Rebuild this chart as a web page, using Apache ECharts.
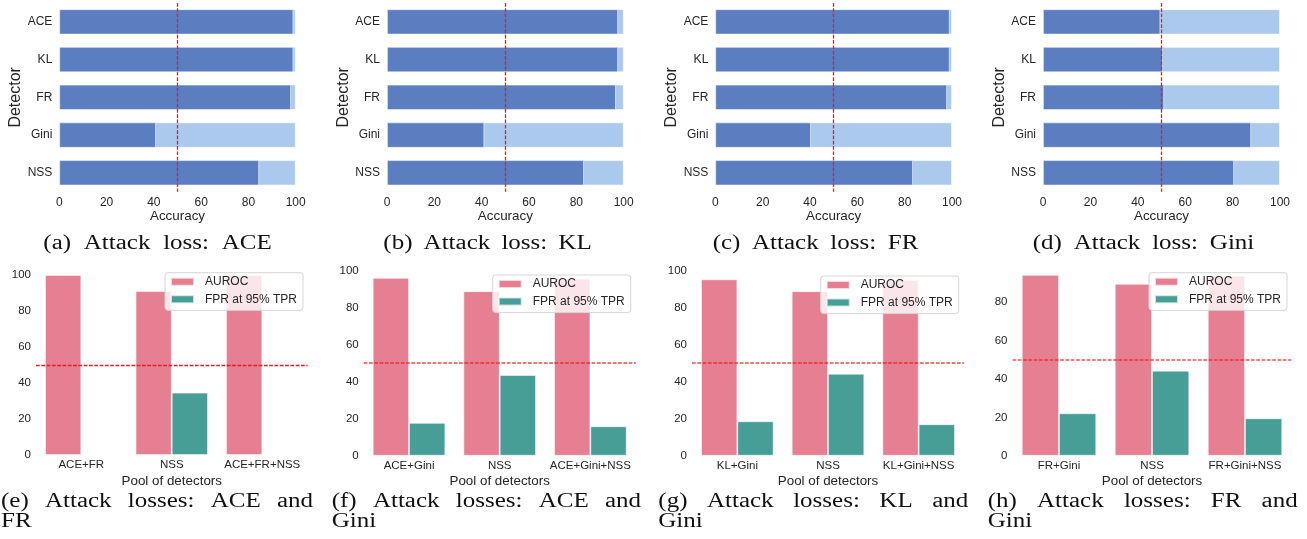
<!DOCTYPE html>
<html>
<head>
<meta charset="utf-8">
<script src="https://cdn.jsdelivr.net/npm/echarts@6/dist/echarts.min.js"></script>
<style>
  html, body { margin: 0; padding: 0; background: #fff; }
  #chart { width: 1307px; height: 539px; }
</style>
</head>
<body>
<div id="chart"></div>
<script>
// ---- data ----
const detectors = ['ACE', 'KL', 'FR', 'Gini', 'NSS'];
const accCeiling = [100, 100, 100, 100, 100];
const accLossACE = [99.0, 99.0, 98.0, 40.9, 84.5];
const accLossKL = [97.6, 97.6, 96.7, 41.1, 83.2];
const accLossFR = [99.0, 99.0, 97.9, 40.4, 83.5];
const accLossGini = [49.5, 50.6, 51.1, 87.8, 80.6];
const accTicks = [0, 20, 40, 60, 80, 100];

const poolsE = ['ACE+FR', 'NSS', 'ACE+FR+NSS'];
const aurocE = [100, 91.1, 100];
const fprE = [0, 34.6, 0];
const poolsF = ['ACE+Gini', 'NSS', 'ACE+Gini+NSS'];
const aurocF = [96.1, 88.9, 95.7];
const fprF = [17.7, 43.6, 15.9];
const poolsG = ['KL+Gini', 'NSS', 'KL+Gini+NSS'];
const aurocG = [95.3, 88.9, 95.0];
const fprG = [18.6, 44.3, 17.0];
const poolsH = ['FR+Gini', 'NSS', 'FR+Gini+NSS'];
const aurocH = [94.3, 89.6, 93.9];
const fprH = [22.1, 44.3, 19.5];

const legendNames = ['AUROC', 'FPR at 95% TPR'];
const captionsTop = ['(a) Attack loss: ACE', '(b) Attack loss: KL', '(c) Attack loss: FR', '(d) Attack loss: Gini'];
const captionsBottom1 = ['(e) Attack losses: ACE and', '(f) Attack losses: ACE and', '(g) Attack losses: KL and', '(h) Attack losses: FR and'];
const captionsBottom2 = ['FR', 'Gini', 'Gini', 'Gini'];

// ---- styling / layout ----
const SANS = '"Liberation Sans", Arial, sans-serif';
const SERIF = '"Liberation Serif", "Times New Roman", serif';
const INK = '#262626';
const DARK_BLUE = '#5b7ec1';
const LIGHT_BLUE = '#abc9ec';
const PINK = '#e67f91';
const TEAL = '#469e97';
const THRESH_RED = '#f01818';

const topPanels = [
  { left: 59.3, width: 236.4, acc: accLossACE },
  { left: 387.0, width: 236.7, acc: accLossKL },
  { left: 715.3, width: 236.7, acc: accLossFR },
  { left: 1043.0, width: 237.0, acc: accLossGini }
];
const bottomPanels = [
  { left: 36.0, width: 271.5, top: 266.0, height: 189.0, ymax: 105, pools: poolsE, auroc: aurocE, fpr: fprE, lgLeft: 165, lgTop: 272.7, dashW: 1.3, dashA: 1 },
  { left: 363.7, width: 272.0, top: 268.85, height: 186.85, ymax: 101, pools: poolsF, auroc: aurocF, fpr: fprF, lgLeft: 492.7, lgTop: 275, dashW: 1.5, dashA: 0.8 },
  { left: 692.0, width: 272.0, top: 270.7, height: 185.0, ymax: 100, pools: poolsG, auroc: aurocG, fpr: fprG, lgLeft: 820.7, lgTop: 276, dashW: 1.5, dashA: 0.8 },
  { left: 1012.5, width: 279.0, top: 265.9, height: 189.8, ymax: 99, pools: poolsH, auroc: aurocH, fpr: fprH, lgLeft: 1149, lgTop: 272.7, dashW: 1.5, dashA: 0.75 }
];

const grid = [], xAxis = [], yAxis = [], series = [], legend = [];

topPanels.forEach((p, i) => {
  grid.push({ left: p.left, top: 3, width: p.width, height: 188.7 });
  xAxis.push({
    type: 'value', gridIndex: i, min: accTicks[0], max: accTicks[accTicks.length - 1], interval: accTicks[1] - accTicks[0],
    axisLine: { show: false }, axisTick: { show: false }, splitLine: { show: false },
    axisLabel: { fontFamily: SANS, fontSize: 12, color: INK, margin: 5 },
    name: 'Accuracy', nameLocation: 'middle', nameGap: 17.5,
    nameTextStyle: { fontFamily: SANS, fontSize: 13.4, color: INK }
  });
  yAxis.push({
    type: 'category', gridIndex: i, data: detectors, inverse: true,
    axisLine: { show: false }, axisTick: { show: false }, splitLine: { show: false },
    axisLabel: { fontFamily: SANS, fontSize: 12, color: INK, margin: 7 },
    name: 'Detector', nameLocation: 'middle', nameGap: 32, nameRotate: 90,
    nameTextStyle: { fontFamily: SANS, fontSize: 16, color: INK }
  });
  series.push({
    type: 'bar', xAxisIndex: i, yAxisIndex: i, data: accCeiling, silent: true,
    barGap: '-100%', barCategoryGap: '33%',
    itemStyle: { color: LIGHT_BLUE, borderColor: 'rgba(255,255,255,0.7)', borderWidth: 0.8 }
  });
  series.push({
    type: 'bar', xAxisIndex: i, yAxisIndex: i, data: p.acc, silent: true,
    barGap: '-100%', barCategoryGap: '33%',
    itemStyle: { color: DARK_BLUE, borderColor: 'rgba(255,255,255,0.7)', borderWidth: 0.8 },
    markLine: {
      silent: true, symbol: 'none', label: { show: false },
      lineStyle: { color: THRESH_RED, opacity: 1, width: 1.3, type: [3.7, 1.6] },
      data: [{ xAxis: 50 }]
    }
  });
});

bottomPanels.forEach((p, k) => {
  const i = k + 4;
  grid.push({ left: p.left, top: p.top, width: p.width, height: p.height });
  xAxis.push({
    type: 'category', gridIndex: i, data: p.pools,
    axisLine: { show: false }, axisTick: { show: false }, splitLine: { show: false },
    axisLabel: { fontFamily: SANS, fontSize: 11.5, color: INK, margin: 4, interval: 0 },
    name: 'Pool of detectors', nameLocation: 'middle', nameGap: 19.5,
    nameTextStyle: { fontFamily: SANS, fontSize: 13.4, color: INK }
  });
  yAxis.push({
    type: 'value', gridIndex: i, min: 0, max: p.ymax, interval: 20,
    axisLine: { show: false }, axisTick: { show: false }, splitLine: { show: false },
    axisLabel: {
      fontFamily: SANS, fontSize: 11.5, color: INK, margin: 5,
      formatter: v => (v % 20 === 0 ? String(v) : '')
    }
  });
  series.push({
    name: legendNames[0], type: 'bar', xAxisIndex: i, yAxisIndex: i, data: p.auroc, silent: true,
    barGap: '0%', barCategoryGap: '20%',
    itemStyle: { color: PINK, borderColor: 'rgba(255,255,255,0.7)', borderWidth: 0.8 },
    markLine: {
      silent: true, symbol: 'none', label: { show: false },
      lineStyle: { color: THRESH_RED, opacity: p.dashA, width: p.dashW, type: [3.7, 1.6] },
      data: [{ yAxis: 50 }]
    }
  });
  series.push({
    name: legendNames[1], type: 'bar', xAxisIndex: i, yAxisIndex: i, data: p.fpr, silent: true,
    barGap: '0%', barCategoryGap: '20%',
    itemStyle: { color: TEAL, borderColor: 'rgba(255,255,255,0.7)', borderWidth: 0.8 }
  });
  legend.push({
    left: p.lgLeft, top: p.lgTop, orient: 'vertical', data: legendNames,
    icon: 'rect', itemWidth: 23, itemHeight: 8, itemGap: 3.6, selectedMode: false,
    padding: [2, 6, 4, 5],
    backgroundColor: 'rgba(255,255,255,0.8)', borderColor: '#d6d6d6', borderWidth: 1, borderRadius: 3,
    textStyle: { fontFamily: SANS, fontSize: 12, color: INK, lineHeight: 14, padding: [0, 0, 0, 6] }
  });
});

// ---- sub-figure captions (word-justified between the given edges) ----
const CAP_SIZE = 20;
const CAP_SX = 1.25;
const measureCtx = document.createElement('canvas').getContext('2d');
measureCtx.font = CAP_SIZE + 'px ' + SERIF;

function captionLine(text, left, right, y, justify) {
  const words = text.split(' ');
  const widths = words.map(w => measureCtx.measureText(w).width * CAP_SX);
  const total = widths.reduce((a, b) => a + b, 0);
  const gap = justify && words.length > 1
    ? (right - left - total) / (words.length - 1)
    : measureCtx.measureText(' ').width * CAP_SX;
  let x = left;
  return words.map((w, j) => {
    const el = {
      type: 'text', x: x, y: y, scaleX: CAP_SX, silent: true,
      style: { text: w, fontFamily: SERIF, fontSize: CAP_SIZE, fill: '#111', align: 'left', verticalAlign: 'middle' }
    };
    x += widths[j] + gap;
    return el;
  });
}

const topCapSpans = [[43.3, 271.7], [383.3, 591.7], [712.7, 918.3], [1032.7, 1254.3]];
const bottomCapSpans = [[1, 313], [331.7, 641], [658.3, 968.3], [987.7, 1297.7]];
let graphics = [];
captionsTop.forEach((c, i) => {
  graphics = graphics.concat(captionLine(c, topCapSpans[i][0], topCapSpans[i][1], 243.5, true));
});
captionsBottom1.forEach((c, i) => {
  graphics = graphics.concat(captionLine(c, bottomCapSpans[i][0], bottomCapSpans[i][1], 501.5, true));
  graphics = graphics.concat(captionLine(captionsBottom2[i], bottomCapSpans[i][0], bottomCapSpans[i][1], 521.5, false));
});

const chart = echarts.init(document.getElementById('chart'), null, { renderer: 'canvas' });
chart.setOption({
  animation: false,
  backgroundColor: '#fff',
  grid, xAxis, yAxis, series, legend,
  graphic: graphics
});
</script>
</body>
</html>
